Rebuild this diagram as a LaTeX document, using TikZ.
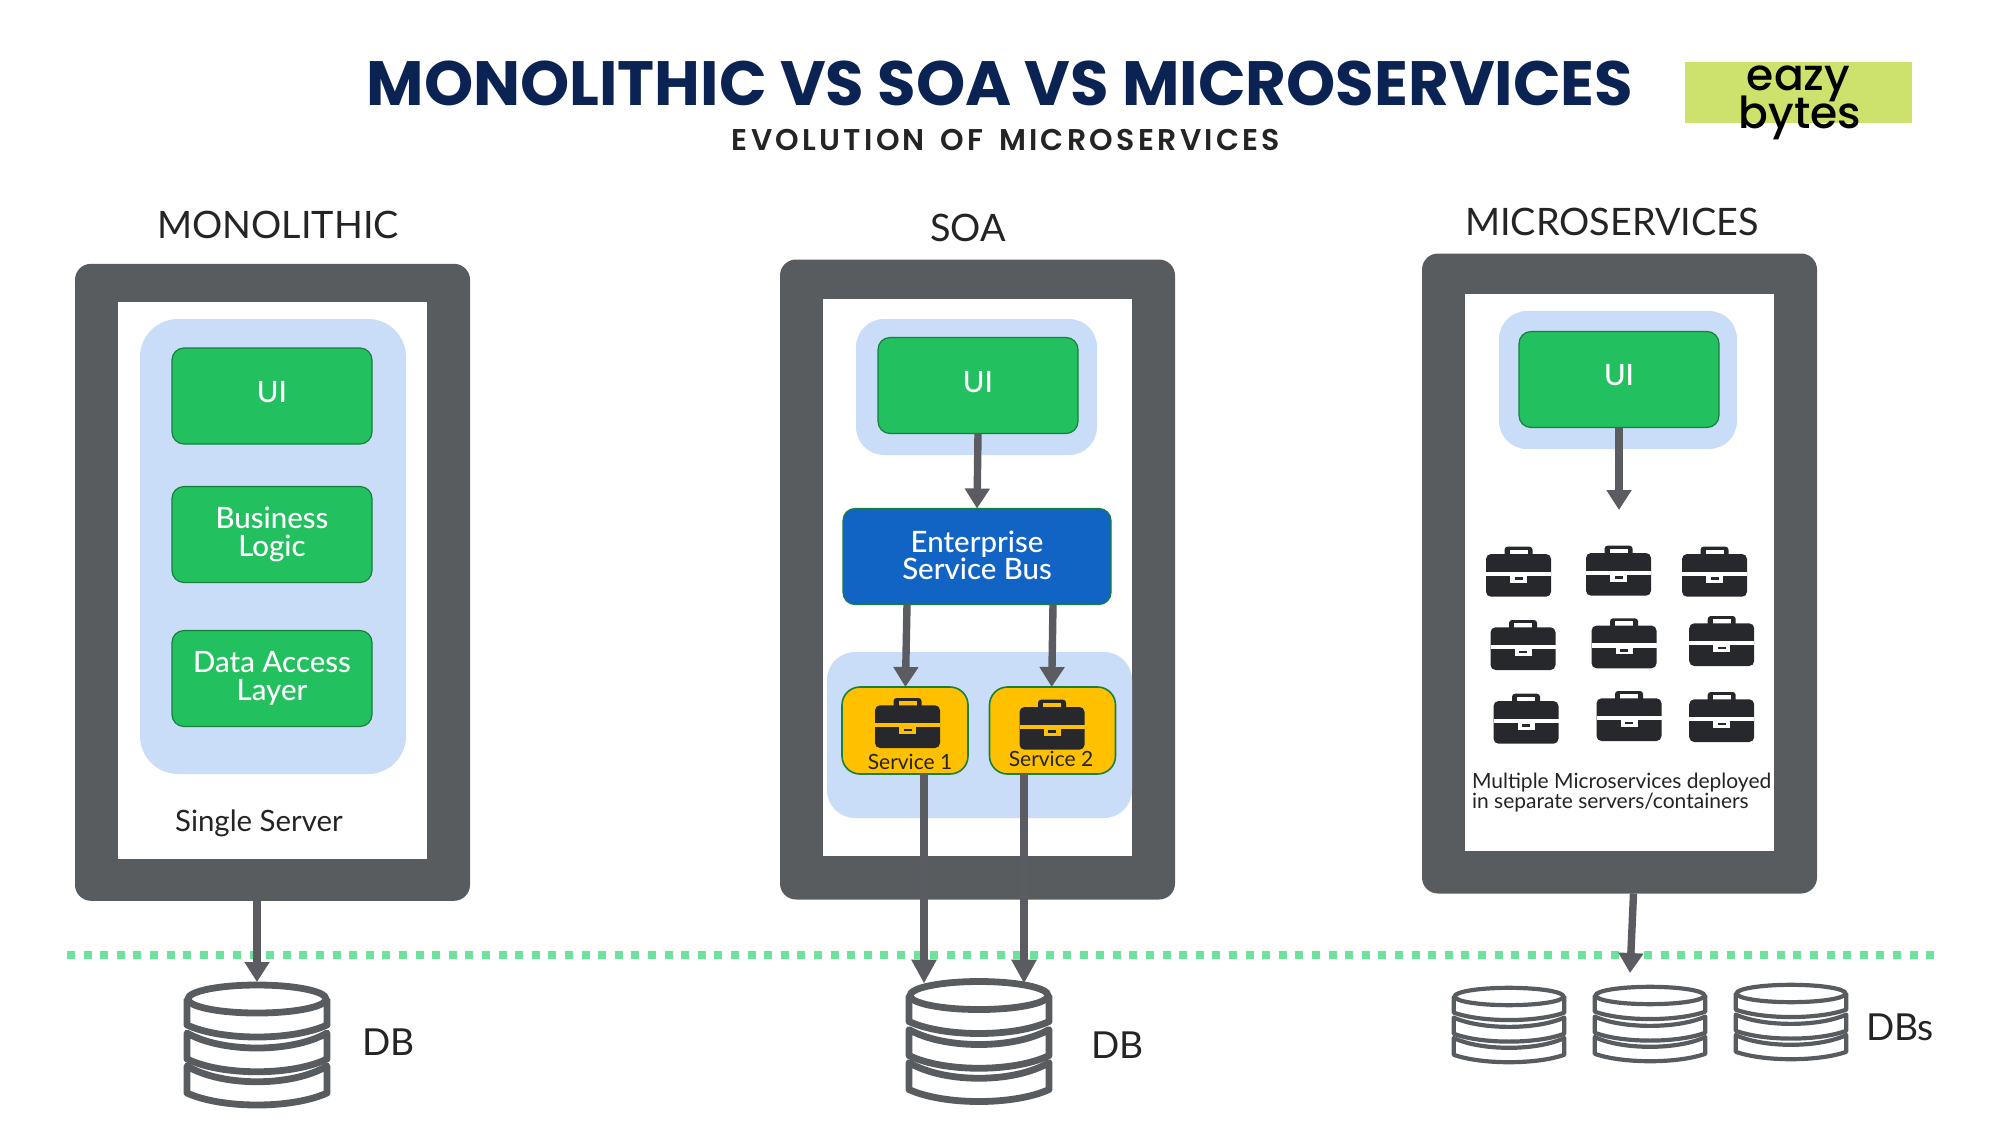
\documentclass[tikz,border=0pt]{standalone}
\usepackage{fontspec}
\setmainfont{Lato}
\newfontfamily\mediumfont{Lato Medium}
\newfontfamily\titlefont{Poppins}
\newfontfamily\logofont{Poppins Medium}
\newfontfamily\subtitlefont[LetterSpace=11,WordSpace=1.5]{Poppins SemiBold}
\usetikzlibrary{arrows.meta}
\definecolor{framegray}{HTML}{595C5F}
\definecolor{arrowgray}{HTML}{5A5C61}
\definecolor{paleblue}{HTML}{C9DDF8}
\definecolor{boxgreen}{HTML}{22C05E}
\definecolor{edgegreen}{HTML}{16803C}
\definecolor{busblue}{HTML}{1264C4}
\definecolor{svcyellow}{HTML}{FFC000}
\definecolor{casedark}{HTML}{26282B}
\definecolor{textdark}{HTML}{242424}
\definecolor{navy}{HTML}{0B2353}
\definecolor{logogreen}{HTML}{CCE26C}
\definecolor{dotgreen}{HTML}{6CE29A}
\tikzset{
  every node/.style={inner sep=0pt, outer sep=0pt},
  frame/.style={fill=framegray, rounded corners=8pt, minimum width=197.5pt, minimum height=320pt},
  inner/.style={fill=white, minimum width=154.5pt, minimum height=278.5pt},
  paneblue/.style={fill=paleblue, rounded corners=#1},
  greenbox/.style={fill=boxgreen, draw=edgegreen, line width=.6pt, rounded corners=6pt,
    minimum width=100pt, minimum height=48pt, text=white, align=center,
    font=\fontsize{14.7}{14}\selectfont\mediumfont},
  servicebox/.style={fill=svcyellow, draw=edgegreen, line width=.8pt, rounded corners=9pt,
    minimum width=63pt, minimum height=43.5pt},
  heading/.style={text=textdark, font=\fontsize{18.9}{20}\selectfont},
  dblabel/.style={text=textdark, font=\fontsize{18.6}{20}\selectfont, anchor=base west},
  svclabel/.style={text=textdark, font=\fontsize{10.5}{12}\selectfont, anchor=base},
  flow/.style={draw=arrowgray, line width=3.7pt, -{Triangle[width=12pt, length=10pt]}},
  flowlong/.style={draw=arrowgray, line width=3.7pt, -{Triangle[width=12pt, length=12pt]}},
  pics/dbicon/.style={code={
    \draw[draw=framegray] (0,-46) ellipse [x radius=69, y radius=14];
    \draw[draw=framegray, line join=round] (-70,-46) -- (-70,-20) .. controls (-35,-4) and (35,-4) .. (70,-20) -- (70,-46);
    \draw[draw=framegray, line join=round] (-70,-12) .. controls (-35,8) and (35,8) .. (70,-12) -- (70,14)
      .. controls (35,31) and (-35,31) .. (-70,14) -- cycle;
    \draw[draw=framegray, line join=round] (-70,21) .. controls (-35,42) and (35,42) .. (70,21) -- (70,48)
      .. controls (35,64) and (-35,64) .. (-70,48) -- cycle;
  }},
  pics/briefcase/.style={code={
    \fill[casedark, rounded corners=1.5pt] (-14,-25) rectangle (14,-12);
    \fill[#1] (-9,-22) rectangle (9,-17.5);
    \fill[casedark, rounded corners=2.5pt] (-32.5,-17.7) rectangle (32.5,25);
    \fill[#1] (-32.5,0) rectangle (32.5,4.3);
    \fill[#1] (-8.5,0) rectangle (8.5,11);
    \fill[casedark] (-4,5.5) rectangle (4,8.3);
  }},
}
\begin{document}
\begin{tikzpicture}[x=0.5pt, y=-0.5pt]
  \useasboundingbox (0,0) rectangle (2000,1125);

  % Title and logo
  \node[text=navy, font=\fontsize{31.3}{36}\selectfont\titlefont\bfseries] (title) at (1000,83) {MONOLITHIC VS SOA VS MICROSERVICES};
  \node[text=textdark, font=\fontsize{15}{16}\selectfont\subtitlefont] (subtitle) at (1006,140) {EVOLUTION OF MICROSERVICES};
  \node[fill=logogreen, minimum width=113.5pt, minimum height=30.5pt] (logo) at (1798.5,92.5) {};
  \node[anchor=base, font=\fontsize{22}{24}\selectfont\logofont] (logoeazy) at (1798.5,90) {eazy};
  \node[anchor=base, font=\fontsize{22}{24}\selectfont\logofont] (logobytes) at (1800,128) {bytes};

  % Section headings
  \node[heading] (monohead) at (278,225) {MONOLITHIC};
  \node[heading] (soahead) at (968,228) {SOA};
  \node[heading] (microhead) at (1612,222) {MICROSERVICES};

  % Separator
  \draw[dotgreen, line width=4pt, dash pattern=on 4pt off 4.3pt] (67,955) -- (1934,955);

  % Monolithic
  \node[frame, minimum height=318.5pt] (monoframe) at (272.5,582.3) {};
  \node[inner] (monoinner) at (272.5,580) {};
  \node[paneblue=19pt, minimum width=133pt, minimum height=227.5pt] (monopane) at (273,546.5) {};
  \node[greenbox] (monoui) at (272,396) {\raisebox{4.4pt}{UI}};
  \node[greenbox] (monologic) at (272,534.5) {Business\\Logic};
  \node[greenbox] (monodata) at (272,678.5) {Data Access\\Layer};
  \node[text=textdark, font=\fontsize{14.7}{16}\selectfont] (monotext) at (259,823) {Single Server};

  % SOA
  \node[frame] (soaframe) at (977.5,579.5) {};
  \node[inner] (soainner) at (977,577) {};
  \node[paneblue=14pt, minimum width=120.5pt, minimum height=68pt] (soapane) at (976.5,387) {};
  \node[paneblue=14pt, minimum width=152.5pt, minimum height=83pt] (svcpane) at (979.5,735) {};
  \node[greenbox] (soaui) at (978,385.5) {\raisebox{3.8pt}{UI}};
  \node[greenbox, fill=busblue, draw=edgegreen, minimum width=134pt] (esb) at (977,556.5) {\raisebox{1.6pt}{\shortstack{Enterprise\\[-2.6pt]Service Bus}}};
  \node[servicebox] (svcone) at (905,730.5) {};
  \node[servicebox] (svctwo) at (1052.5,730.5) {};
  \pic at (907.5,723) {briefcase=svcyellow};
  \pic at (1052,724.7) {briefcase=svcyellow};
  \node[svclabel] (svconelabel) at (910,769) {Service 1};
  \node[svclabel] (svctwolabel) at (1051,766) {Service 2};

  % Microservices
  \node[frame] (microframe) at (1619.5,573.5) {};
  \node[inner] (microinner) at (1619.5,572) {};
  \node[paneblue=14pt, minimum width=119pt, minimum height=69pt] (micropane) at (1618,380) {};
  \node[greenbox] (microui) at (1619,379.5) {\raisebox{4.4pt}{UI}};
  \coordinate (microcases) at (1619,510);
  \coordinate (microdbs) at (1630,973);
  \pic at (1518.5,571.7) {briefcase=white};
  \pic at (1618.5,570.7) {briefcase=white};
  \pic at (1714.5,571.7) {briefcase=white};
  \pic at (1523,645) {briefcase=white};
  \pic at (1624,643.3) {briefcase=white};
  \pic at (1721.7,641) {briefcase=white};
  \pic at (1526,718.7) {briefcase=white};
  \pic at (1629,716) {briefcase=white};
  \pic at (1721.7,717) {briefcase=white};
  \node[text=textdark, align=left, anchor=base west, font=\fontsize{10.5}{9.75}\selectfont] (microtext) at (1472,808) {Multiple Microservices deployed\\in separate servers/containers};

  % Databases
  \node[minimum width=74pt, minimum height=63pt] (dbmono) at (257,1045) {};
  \node[minimum width=74pt, minimum height=63pt] (dbsoa) at (979,1041.5) {};
  \node[minimum width=58pt, minimum height=39pt] (dbone) at (1509,1025) {};
  \node[minimum width=58pt, minimum height=38pt] (dbtwo) at (1650,1024) {};
  \node[minimum width=58pt, minimum height=38pt] (dbthree) at (1791,1022) {};
  \pic[line width=3.4pt] at (dbmono) {dbicon};
  \pic[line width=3.4pt] at (dbsoa) {dbicon};
  \pic[line width=2.1pt, xscale=.79, yscale=.62] at (dbone) {dbicon};
  \pic[line width=2.1pt, xscale=.79, yscale=.62] at (dbtwo) {dbicon};
  \pic[line width=2.1pt, xscale=.79, yscale=.62] at (dbthree) {dbicon};
  \node[dblabel] (monodb) at (362,1055) {DB};
  \node[dblabel] (soadb) at (1091,1058) {DB};
  \node[dblabel] (microdb) at (1866,1040) {DBs};

  % Arrows
  \draw[flow] (monoframe.south -| dbmono.north) -- (dbmono.north);
  \draw[flow] (soaui.south) -- (esb.north);
  \draw[flow] ([xshift=-35pt]esb.south) -- ([xshift=.2pt]svcone.north);
  \draw[flow] ([xshift=38pt]esb.south) -- ([xshift=-.4pt]svctwo.north);
  \draw[flowlong] ([xshift=9.5pt]svcone.south) -- ([xshift=-27.5pt,yshift=-2.5pt]dbsoa.north);
  \draw[flowlong] ([xshift=-14.25pt]svctwo.south) -- ([xshift=22.5pt,yshift=-2.5pt]dbsoa.north);
  \draw[flow] (microui.south) -- (microcases);
  \draw[flow] ([xshift=7pt]microframe.south) -- (microdbs);
\end{tikzpicture}
\end{document}
